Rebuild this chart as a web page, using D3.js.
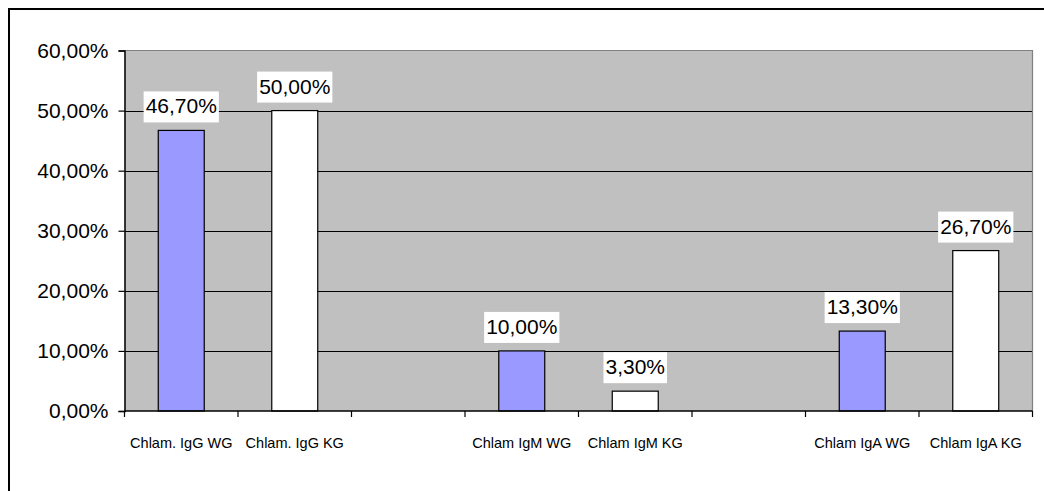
<!DOCTYPE html>
<html>
<head>
<meta charset="utf-8">
<script src="https://cdn.jsdelivr.net/npm/d3@7"></script>
<style>
  html, body { margin: 0; padding: 0; background: #fff; }
  svg { display: block; font-family: "Liberation Sans", Arial, sans-serif; }
</style>
</head>
<body>
<svg id="chart" width="1044" height="491"></svg>
<script>
// Category slots (two empty gap slots between antibody groups)
const categories = ["Chlam. IgG WG", "Chlam. IgG KG", "", "Chlam IgM WG", "Chlam IgM KG", "", "Chlam IgA WG", "Chlam IgA KG"];
const groups = ["WG", "KG", null, "WG", "KG", null, "WG", "KG"];
const values = [0.467, 0.50, null, 0.10, 0.033, null, 0.133, 0.267];
const yTicks = [0, 0.1, 0.2, 0.3, 0.4, 0.5, 0.6];
const groupColors = { WG: "#9999FF", KG: "#FFFFFF" };

const svg = d3.select("#chart");
const plot = { left: 124.5, right: 1032.5, top: 50.5, bottom: 411 };

const x = d3.scaleBand()
  .domain(d3.range(categories.length))
  .range([plot.left, plot.right])
  .padding(0);

const y = d3.scaleLinear()
  .domain([0, 0.6])
  .range([plot.bottom, plot.top]);

const pct = d => d3.format(".2f")(d * 100).replace(".", ",") + "%";

// outer frame
svg.append("rect")
  .attr("x", 9).attr("y", 9)
  .attr("width", 1100).attr("height", 600)
  .attr("fill", "none").attr("stroke", "#000").attr("stroke-width", 2);

// plot background
svg.append("rect")
  .attr("x", plot.left).attr("y", plot.top)
  .attr("width", plot.right - plot.left).attr("height", plot.bottom - plot.top)
  .attr("fill", "#C0C0C0");

// horizontal gridlines
svg.append("g")
  .selectAll("line")
  .data(yTicks.filter(t => t > 0 && t < 0.6))
  .join("line")
  .attr("x1", plot.left).attr("x2", plot.right)
  .attr("y1", d => Math.round(y(d)) + 0.5).attr("y2", d => Math.round(y(d)) + 0.5)
  .attr("stroke", "#000").attr("stroke-width", 1);

// plot frame (top and right)
svg.append("path")
  .attr("d", `M${plot.left},${plot.top}H${plot.right}V${plot.bottom}`)
  .attr("fill", "none").attr("stroke", "#808080").attr("stroke-width", 1.2);

// bars
const barW = x.step() * 0.405;
const data = values.map((v, i) => ({ i, v, g: groups[i] })).filter(d => d.v != null);

svg.append("g")
  .selectAll("rect")
  .data(data)
  .join("rect")
  .attr("x", d => x(d.i) + x.bandwidth() / 2 - barW / 2)
  .attr("y", d => y(d.v))
  .attr("width", barW)
  .attr("height", d => y(0) - y(d.v))
  .attr("fill", d => groupColors[d.g])
  .attr("stroke", "#000").attr("stroke-width", 1.2);

// y axis
const yAxis = svg.append("g")
  .attr("transform", `translate(${plot.left},0)`)
  .call(d3.axisLeft(y).tickValues(yTicks).tickFormat(pct).tickSize(6).tickPadding(10));
yAxis.select(".domain").attr("stroke", "#000").attr("stroke-width", 1.5);
yAxis.selectAll(".tick line").attr("stroke", "#000").attr("stroke-width", 1.2);
yAxis.selectAll(".tick text")
  .attr("font-size", 21).attr("fill", "#000")
  .attr("font-family", "Liberation Sans, Arial, sans-serif");

// x axis labels centred in each slot
const xAxis = svg.append("g")
  .attr("transform", `translate(0,${plot.bottom})`)
  .call(d3.axisBottom(x).tickFormat(i => categories[i]).tickSize(0).tickPadding(27));
xAxis.select(".domain").remove();
xAxis.selectAll(".tick text")
  .attr("font-size", 14.5).attr("fill", "#000")
  .attr("font-family", "Liberation Sans, Arial, sans-serif");

// x axis line and slot boundary ticks
const bounds = d3.range(categories.length + 1).map(i => plot.left + i * x.step());
svg.append("line")
  .attr("x1", plot.left).attr("x2", plot.right)
  .attr("y1", plot.bottom).attr("y2", plot.bottom)
  .attr("stroke", "#000").attr("stroke-width", 1.5);
svg.append("g")
  .selectAll("line")
  .data(bounds)
  .join("line")
  .attr("x1", d => d).attr("x2", d => d)
  .attr("y1", plot.bottom).attr("y2", plot.bottom + 6)
  .attr("stroke", "#000").attr("stroke-width", 1.2);

// value labels with white boxes
const labels = svg.append("g")
  .selectAll("g")
  .data(data)
  .join("g")
  .attr("transform", d => `translate(${x(d.i) + x.bandwidth() / 2},${y(d.v) - 17})`);

labels.append("text")
  .attr("text-anchor", "middle")
  .attr("font-size", 21)
  .attr("fill", "#000")
  .text(d => pct(d.v));

labels.each(function () {
  const g = d3.select(this);
  const bb = g.select("text").node().getBBox();
  g.insert("rect", "text")
    .attr("x", bb.x - 2).attr("y", -22)
    .attr("width", bb.width + 4).attr("height", 31)
    .attr("fill", "#fff");
});
</script>
</body>
</html>
